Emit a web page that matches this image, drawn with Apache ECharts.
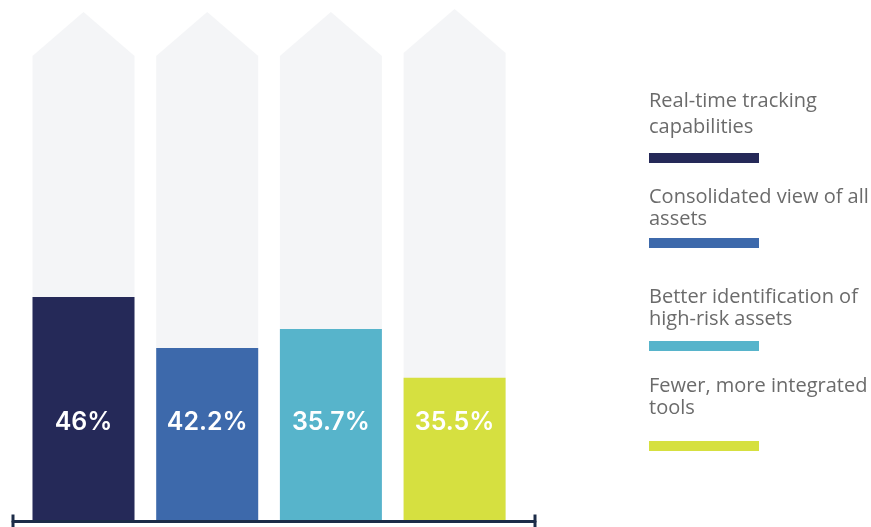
<!DOCTYPE html>
<html>
<head>
<meta charset="utf-8">
<script src="https://cdn.jsdelivr.net/npm/echarts@6/dist/echarts.min.js"></script>
<style>
  html, body { margin: 0; padding: 0; background: #ffffff; }
  #chart { width: 871px; height: 527px; }
</style>
</head>
<body>
<div id="chart"></div>
<script>
// ---- Data ----
const categories = [
  'Real-time tracking capabilities',
  'Consolidated view of all assets',
  'Better identification of high-risk assets',
  'Fewer, more integrated tools'
];
const legendLines = [
  'Real-time tracking\ncapabilities',
  'Consolidated view of all\nassets',
  'Better identification of\nhigh-risk assets',
  'Fewer, more integrated\ntools'
];
const valueLabels = [46, 42.2, 35.7, 35.5];       // printed percentages
const barHeights = [43.75, 33.8, 37.5, 28.0];     // drawn bar heights (share of column)
const columnHeights = [99.4, 99.4, 99.4, 100];    // arrow-shaped background columns

// ---- Styles / layout ----
const colors = ['#252958', '#3d69ab', '#57b4cb', '#d6e040'];
const legendTextTop = [88, 186, 286, 375];
const legendLineHeight = [26, 22, 22, 22];
const legendSwatchTop = [153, 238, 341, 441];

const chart = echarts.init(document.getElementById('chart'), null, { renderer: 'canvas' });

const graphics = [];
categories.forEach((c, i) => {
  graphics.push({
    type: 'text',
    left: 649,
    top: legendTextTop[i],
    style: {
      text: legendLines[i],
      font: '20px "Open Sans"',
      fill: '#6b6b6b',
      lineHeight: legendLineHeight[i]
    }
  });
  graphics.push({
    type: 'rect',
    left: 649,
    top: legendSwatchTop[i],
    shape: { width: 110, height: 10 },
    style: { fill: colors[i] }
  });
});

const option = {
  animation: false,
  backgroundColor: '#ffffff',
  grid: { left: 13, right: 336, top: 9, bottom: 6, containLabel: false },
  xAxis: {
    type: 'value',
    min: -0.57,
    max: 3.65,
    z: 10,
    splitLine: { show: false },
    axisTick: { show: false },
    axisLabel: { show: false },
    axisLine: {
      show: true,
      onZero: false,
      symbol: ['rect', 'rect'],
      symbolSize: [13, 3],
      lineStyle: { color: '#1d2c48', width: 3 }
    }
  },
  yAxis: {
    type: 'value',
    min: 0,
    max: 100,
    show: false
  },
  graphic: graphics,
  series: [
    {
      type: 'custom',
      z: 1,
      data: columnHeights.map((h, i) => [i, h]),
      renderItem: function (params, api) {
        const i = api.value(0);
        const top = api.coord([i, api.value(1)]);
        const base = api.coord([i, 0]);
        const w = 102;
        const shoulder = 44;
        const x = top[0];
        return {
          type: 'polygon',
          shape: {
            points: [
              [x - w / 2, base[1]],
              [x - w / 2, top[1] + shoulder],
              [x, top[1]],
              [x + w / 2, top[1] + shoulder],
              [x + w / 2, base[1]]
            ]
          },
          style: { fill: '#f4f5f7' }
        };
      }
    },
    {
      type: 'bar',
      z: 3,
      barWidth: 102,
      data: barHeights.map((h, i) => ({ value: [i, h], itemStyle: { color: colors[i] } })),
      label: {
        show: true,
        position: 'insideBottom',
        distance: 86,
        formatter: p => valueLabels[p.dataIndex] + '%',
        color: '#ffffff',
        fontFamily: 'Inter',
        fontWeight: 600,
        fontSize: 25,
        lineHeight: 25
      }
    }
  ]
};
chart.setOption(option);
</script>
</body>
</html>
